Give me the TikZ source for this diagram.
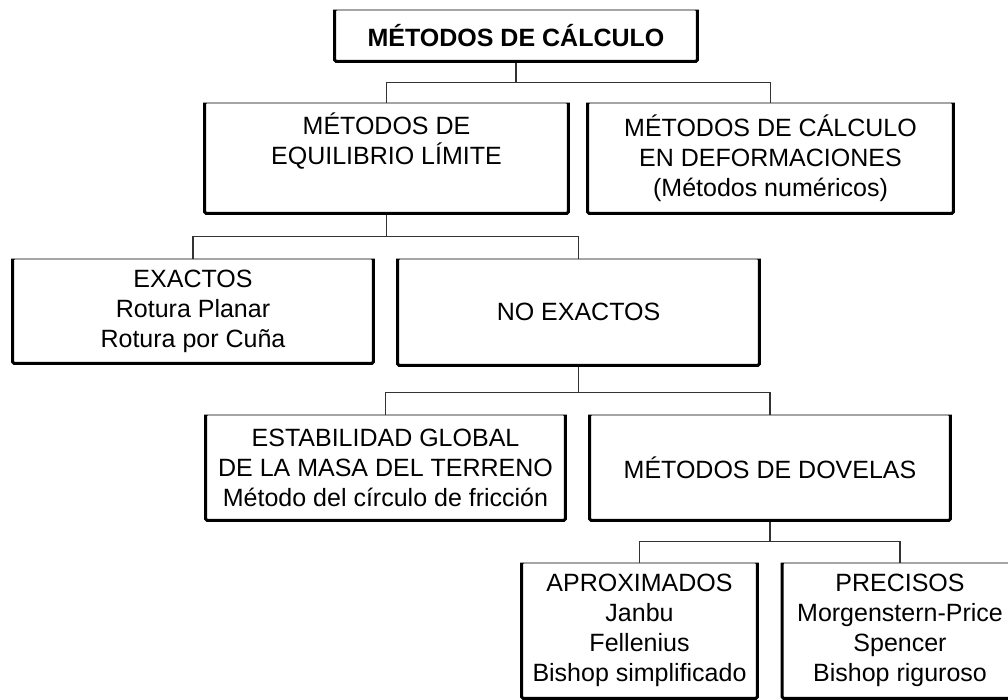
\documentclass[tikz,border=0pt]{standalone}
\usepackage{fontspec}
\setmainfont{Liberation Sans}
\tikzstyle{caja} = [draw, line width=0.8pt, rounded corners=1.5pt, align=center, inner sep=0pt, font=\fontsize{25}{30}\selectfont]
\tikzstyle{borde} = [line width=3pt, rounded corners=1.5pt]
\tikzstyle{linea} = [line width=1.2pt, draw=black!80]

\begin{document}
\begin{tikzpicture}[x=1pt, y=-1pt]
	\clip (0,0) rectangle (1008,700);
	% cajas
	\node[caja, minimum width=362pt, minimum height=51pt, font=\fontsize{25}{30}\selectfont\bfseries] (calc) at (516,35.5) {MÉTODOS DE CÁLCULO};
	\node[caja, minimum width=363pt, minimum height=110pt] (equil) at (386.5,158) {MÉTODOS DE\\EQUILIBRIO LÍMITE\\\strut};
	\node[caja, minimum width=365pt, minimum height=110pt] (deform) at (770.5,158) {MÉTODOS DE CÁLCULO\\EN DEFORMACIONES\\(Métodos numéricos)};
	\node[caja, minimum width=360pt, minimum height=104pt] (exactos) at (193,311) {EXACTOS\\Rotura Planar\\Rotura por Cuña};
	\node[caja, minimum width=361pt, minimum height=106pt] (noexactos) at (578.5,312) {NO EXACTOS};
	\node[caja, minimum width=359pt, minimum height=105pt] (estab) at (385.5,467.5) {ESTABILIDAD GLOBAL\\DE LA MASA DEL TERRENO\\Método del círculo de fricción};
	\node[caja, minimum width=360pt, minimum height=105pt] (dovelas) at (770,467.5) {MÉTODOS DE DOVELAS};
	\node[caja, minimum width=235pt, minimum height=135pt] (aprox) at (639.5,630.5) {APROXIMADOS\\Janbu\\Fellenius\\Bishop simplificado};
	\node[caja, minimum width=235pt, minimum height=135pt] (precisos) at (900,630.5) {PRECISOS\\Morgenstern-Price\\Spencer\\Bishop riguroso};

	% conectores
	\draw[linea] (calc.south) -- ++(0,21) -| (equil.north);
	\draw[linea] (calc.south) -- ++(0,21) -| (deform.north);
	\draw[linea] (equil.south) -- ++(0,23) -| (exactos.north);
	\draw[linea] (equil.south) -- ++(0,23) -| (noexactos.north);
	\draw[linea] (noexactos.south) -- ++(0,27) -| (estab.north);
	\draw[linea] (noexactos.south) -- ++(0,27) -| (dovelas.north);
	\draw[linea] (dovelas.south) -- ++(0,21) -| (aprox.north);
	\draw[linea] (dovelas.south) -- ++(0,21) -| (precisos.north);

	% bordes gruesos
	\foreach \n in {calc,equil,deform,exactos,noexactos,estab,dovelas,aprox,precisos}
		\draw[borde] (\n.north west) -- (\n.south west) -- (\n.south east) -- (\n.north east);
\end{tikzpicture}
\end{document}
